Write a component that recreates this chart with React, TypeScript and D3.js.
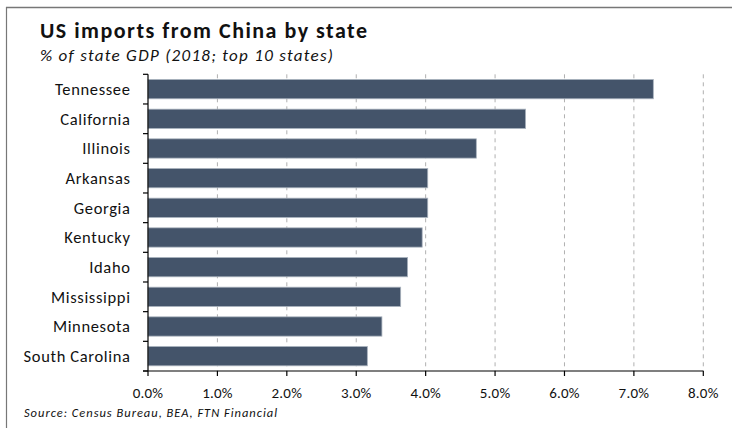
import React from "react";
import * as d3 from "d3";

const states = ["Tennessee", "California", "Illinois", "Arkansas", "Georgia", "Kentucky", "Idaho", "Mississippi", "Minnesota", "South Carolina"];
const values = [7.28, 5.44, 4.73, 4.03, 4.03, 3.95, 3.74, 3.64, 3.37, 3.16];
const xTicks = [0, 1, 2, 3, 4, 5, 6, 7, 8];

const W = 732, H = 428;
const left = 148, right = 703.3, top = 74.3, bottom = 371;
const FONT = "Carlito, Calibri, 'Open Sans', sans-serif";

export default function App() {
  const x = d3.scaleLinear().domain([0, 8]).range([left, right]);
  const y = d3.scaleBand<string>().domain(states).range([top, bottom]).paddingInner(0.35).paddingOuter(0.175);
  const step = y.step();
  const boundaries = d3.range(states.length + 1).map(i => top + i * step);
  const fmt = d3.format(".1f");
  return (
    <svg width={W} height={H} style={{ position: "absolute", left: 0, top: 0, background: "#fff" }} fontFamily={FONT}>
      <rect x={0} y={0} width={W} height={H} fill="#fff" />
      <line x1={6.5} y1={7} x2={6.5} y2={H} stroke="#777" strokeWidth={1.2} />
      <line x1={6} y1={7.5} x2={W} y2={7.5} stroke="#777" strokeWidth={1.5} />
      <text x={40} y={37.5} fontSize={22} fontWeight="bold" fill="#111" textLength={327} lengthAdjust="spacing">US imports from China by state</text>
      <text x={40} y={60.5} fontSize={17} fontStyle="italic" fill="#111" textLength={293} lengthAdjust="spacing">% of state GDP (2018; top 10 states)</text>
      {xTicks.slice(1).map(t => (
        <line key={"g" + t} x1={x(t)} x2={x(t)} y1={top} y2={bottom} stroke="#b0b0b0" strokeWidth={1} strokeDasharray="4,4" />
      ))}
      {states.map((s, i) => (
        <rect key={s} x={x(0)} y={y(s)!} width={x(values[i]) - x(0)} height={y.bandwidth()} fill="#44546A" stroke="#a9b2bd" strokeWidth={0.8} />
      ))}
      <line x1={left} x2={left} y1={top} y2={bottom} stroke="#000" strokeWidth={1.2} />
      {boundaries.map((b, i) => (
        <line key={"t" + i} x1={left - 5} x2={left} y1={b} y2={b} stroke="#000" strokeWidth={1.2} />
      ))}
      <line x1={left - 5} x2={right} y1={bottom} y2={bottom} stroke="#000" strokeWidth={1.2} />
      {xTicks.map(t => (
        <g key={"x" + t}>
          <line x1={x(t)} x2={x(t)} y1={bottom} y2={bottom + 5} stroke="#000" strokeWidth={1.2} />
          <text x={x(t)} y={398} fontSize={15} letterSpacing={0.2} textAnchor="middle" fill="#111">{fmt(t)}%</text>
        </g>
      ))}
      {states.map(s => (
        <text key={"l" + s} x={130.6} y={y(s)! + y.bandwidth() / 2 + 6} fontSize={16.5} letterSpacing={0.65} textAnchor="end" fill="#111">{s}</text>
      ))}
      <text x={24} y={417} fontSize={12.5} fontStyle="italic" fill="#111" textLength={253} lengthAdjust="spacing">Source: Census Bureau, BEA, FTN Financial</text>
    </svg>
  );
}
